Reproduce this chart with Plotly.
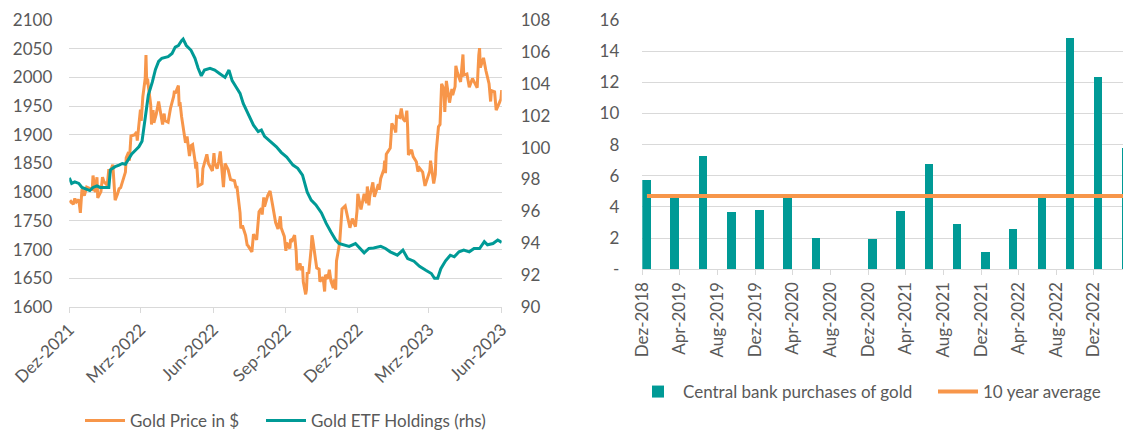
import plotly.graph_objects as go

# ---------------- Left chart data ----------------
gold_dates = [
    "2021-12-01","2021-12-03","2021-12-06","2021-12-08","2021-12-10","2021-12-13","2021-12-15","2021-12-16",
    "2021-12-17","2021-12-20","2021-12-22","2021-12-23","2021-12-28","2021-12-30","2021-12-31",
    "2022-01-03","2022-01-05","2022-01-06","2022-01-10","2022-01-12","2022-01-14","2022-01-18","2022-01-20",
    "2022-01-21","2022-01-25","2022-01-26","2022-01-28","2022-01-31",
    "2022-02-02","2022-02-04","2022-02-08","2022-02-10","2022-02-11","2022-02-14","2022-02-15","2022-02-17",
    "2022-02-22","2022-02-24","2022-02-25",
    "2022-03-01","2022-03-02","2022-03-04","2022-03-07","2022-03-08","2022-03-09","2022-03-10","2022-03-11",
    "2022-03-14","2022-03-15","2022-03-17","2022-03-18","2022-03-21","2022-03-24","2022-03-28","2022-03-29",
    "2022-03-31",
    "2022-04-01","2022-04-05","2022-04-08","2022-04-12","2022-04-13","2022-04-14","2022-04-18","2022-04-19",
    "2022-04-20","2022-04-22","2022-04-25","2022-04-27","2022-04-29",
    "2022-05-02","2022-05-04","2022-05-06","2022-05-09","2022-05-10","2022-05-11","2022-05-13","2022-05-16",
    "2022-05-18","2022-05-19","2022-05-24","2022-05-26","2022-05-31",
    "2022-06-02","2022-06-03","2022-06-06","2022-06-08","2022-06-10","2022-06-13","2022-06-14","2022-06-16",
    "2022-06-20","2022-06-23","2022-06-28","2022-06-30",
    "2022-07-01","2022-07-05","2022-07-06","2022-07-08","2022-07-12","2022-07-14","2022-07-15","2022-07-20",
    "2022-07-21","2022-07-22","2022-07-26","2022-07-28","2022-07-29",
    "2022-08-01","2022-08-02","2022-08-04","2022-08-05","2022-08-09","2022-08-12","2022-08-15","2022-08-17",
    "2022-08-19","2022-08-22","2022-08-25","2022-08-26","2022-08-30",
    "2022-09-01","2022-09-02","2022-09-06","2022-09-07","2022-09-09","2022-09-12","2022-09-14","2022-09-15",
    "2022-09-19","2022-09-20","2022-09-22","2022-09-23","2022-09-26","2022-09-27","2022-09-28","2022-09-30",
    "2022-10-03","2022-10-04","2022-10-05","2022-10-07","2022-10-10","2022-10-13","2022-10-14","2022-10-18",
    "2022-10-20","2022-10-21","2022-10-24","2022-10-26","2022-10-28","2022-10-31",
    "2022-11-01","2022-11-03","2022-11-04","2022-11-08","2022-11-10","2022-11-11","2022-11-15","2022-11-17",
    "2022-11-21","2022-11-24","2022-11-28","2022-11-30",
    "2022-12-01","2022-12-05","2022-12-08","2022-12-09","2022-12-12","2022-12-13","2022-12-15","2022-12-16",
    "2022-12-20","2022-12-22","2022-12-27","2022-12-28","2022-12-30",
    "2023-01-03","2023-01-04","2023-01-05","2023-01-06","2023-01-09","2023-01-11","2023-01-12","2023-01-13",
    "2023-01-17","2023-01-18","2023-01-19","2023-01-23","2023-01-25","2023-01-27","2023-01-30",
    "2023-02-01","2023-02-02","2023-02-03","2023-02-07","2023-02-09","2023-02-13","2023-02-15","2023-02-17",
    "2023-02-21","2023-02-24","2023-02-28",
    "2023-03-02","2023-03-03","2023-03-07","2023-03-09","2023-03-10","2023-03-13","2023-03-15","2023-03-17",
    "2023-03-20","2023-03-21","2023-03-23","2023-03-27","2023-03-30","2023-03-31",
    "2023-04-03","2023-04-04","2023-04-06","2023-04-10","2023-04-13","2023-04-14","2023-04-18","2023-04-21",
    "2023-04-25","2023-04-28",
    "2023-05-01","2023-05-03","2023-05-04","2023-05-05","2023-05-09","2023-05-12","2023-05-16","2023-05-18",
    "2023-05-19","2023-05-23","2023-05-25","2023-05-26","2023-05-30","2023-05-31","2023-06-01",
]
gold_price = [
    1782,1784,1779,1789,1783,1787,1764,1798,
    1805,1794,1803,1809,1806,1805,1829,
    1800,1826,1790,1801,1826,1818,1812,1840,
    1833,1848,1820,1786,1797,
    1806,1808,1825,1835,1860,1870,1855,1898,
    1900,1905,1890,
    1944,1924,1966,1998,2039,1988,1998,1985,
    1952,1918,1943,1921,1936,1958,1923,1918,
    1937,
    1925,1922,1946,1967,1977,1972,1986,1950,
    1957,1932,1898,1886,1897,
    1863,1881,1883,1855,1841,1853,1811,1813,
    1815,1841,1866,1850,1837,
    1868,1851,1841,1853,1871,1831,1809,1850,
    1839,1822,1820,1807,
    1811,1764,1737,1742,1725,1708,1707,1696,
    1718,1727,1717,1755,1766,
    1772,1761,1791,1775,1794,1802,1779,1761,
    1747,1736,1758,1738,1723,
    1698,1712,1702,1718,1716,1725,1697,1664,
    1676,1664,1671,1644,1622,1630,1659,1660,
    1702,1725,1717,1695,1668,1666,1644,1652,
    1627,1656,1649,1665,1645,1633,
    1648,1630,1680,1712,1755,1771,1776,1761,
    1738,1754,1740,1768,
    1797,1770,1789,1797,1781,1810,1777,1792,
    1817,1792,1814,1804,1824,
    1840,1855,1833,1866,1872,1877,1897,1920,
    1909,1904,1932,1930,1946,1928,1923,
    1942,1913,1865,1874,1862,1853,1836,1842,
    1835,1811,1827,
    1837,1855,1815,1831,1868,1914,1918,1989,
    1979,1940,1994,1956,1980,1969,
    1984,2020,2008,1992,2040,2004,2006,1983,
    1998,1990,
    1982,2039,2051,2017,2034,2012,1989,1958,
    1977,1975,1943,1946,1959,1962,1978,
]

etf_dates = [
    "2021-12-01","2021-12-04","2021-12-08","2021-12-13","2021-12-17","2021-12-23","2021-12-27","2021-12-31",
    "2022-01-05","2022-01-09","2022-01-15","2022-01-20","2022-01-22","2022-01-28",
    "2022-02-02","2022-02-06","2022-02-10","2022-02-14","2022-02-18","2022-02-23","2022-02-27",
    "2022-03-03","2022-03-07","2022-03-11","2022-03-16","2022-03-20","2022-03-24","2022-03-28",
    "2022-04-05","2022-04-10","2022-04-14","2022-04-18","2022-04-22","2022-04-24","2022-04-28",
    "2022-05-04","2022-05-09","2022-05-13","2022-05-17","2022-05-21","2022-05-28",
    "2022-06-03","2022-06-09","2022-06-16","2022-06-21","2022-06-25","2022-06-30",
    "2022-07-05","2022-07-09","2022-07-15","2022-07-22","2022-07-28",
    "2022-08-01","2022-08-05","2022-08-12","2022-08-20","2022-08-26",
    "2022-09-02","2022-09-10","2022-09-16","2022-09-22","2022-09-28",
    "2022-10-03","2022-10-09","2022-10-16","2022-10-22","2022-10-28",
    "2022-11-03","2022-11-07","2022-11-13","2022-11-20","2022-11-28",
    "2022-12-04","2022-12-09","2022-12-15","2022-12-21","2022-12-30",
    "2023-01-05","2023-01-11","2023-01-20","2023-01-27",
    "2023-02-02","2023-02-10","2023-02-17","2023-02-25",
    "2023-03-04","2023-03-08","2023-03-12","2023-03-16","2023-03-22","2023-03-28",
    "2023-04-02","2023-04-08","2023-04-14","2023-04-21","2023-04-27",
    "2023-05-04","2023-05-10","2023-05-14","2023-05-21","2023-05-27","2023-06-01",
]
etf_holdings = [
    98.1,97.75,97.85,97.75,97.5,97.4,97.3,97.5,
    97.6,97.5,97.5,97.5,98.6,98.8,
    98.9,99.0,98.95,99.3,99.6,99.85,100.05,
    100.4,102.0,103.3,104.1,104.9,105.4,105.6,
    105.7,105.9,106.3,106.4,106.7,106.8,106.4,
    106.1,105.6,104.97,104.5,104.86,104.97,
    104.86,104.65,104.4,104.86,104.2,103.8,
    103.4,102.77,102.1,101.4,101.0,
    101.1,100.7,100.4,100.05,99.7,
    99.4,98.9,98.7,98.27,97.2,
    96.7,96.4,95.9,95.24,94.7,
    94.2,93.98,93.9,93.8,93.98,
    93.67,93.4,93.67,93.7,93.8,
    93.67,93.46,93.25,93.57,
    93.04,92.87,92.55,92.3,
    92.1,91.8,91.8,92.4,92.9,93.25,
    93.15,93.46,93.57,93.46,93.67,
    93.67,94.1,93.9,93.98,94.2,94.05,
]

left_tick_dates = ["2021-12-01","2022-03-01","2022-06-01","2022-09-01","2022-12-01","2023-03-01","2023-06-01"]
left_tick_labels = ["Dez-2021","Mrz-2022","Jun-2022","Sep-2022","Dez-2022","Mrz-2023","Jun-2023"]

# ---------------- Right chart data ----------------
cb_months = ["2018-12","2019-03","2019-06","2019-09","2019-12","2020-03","2020-06","2020-09","2020-12",
             "2021-03","2021-06","2021-09","2021-12","2022-03","2022-06","2022-09","2022-12","2023-03"]
cb_purchases = [5.75,4.55,7.3,3.65,3.78,4.55,2.03,0,1.96,
                3.72,6.73,2.9,1.11,2.58,4.85,14.85,12.33,7.8]
ten_year_avg = 4.7

right_tick_dates = ["2018-12-01","2019-04-01","2019-08-01","2019-12-01","2020-04-01","2020-08-01","2020-12-01",
                    "2021-04-01","2021-08-01","2021-12-01","2022-04-01","2022-08-01","2022-12-01"]
right_tick_labels = ["Dez-2018","Apr-2019","Aug-2019","Dez-2019","Apr-2020","Aug-2020","Dez-2020",
                     "Apr-2021","Aug-2021","Dez-2021","Apr-2022","Aug-2022","Dez-2022"]

# ---------------- Styling ----------------
ORANGE = "#F7964A"
TEAL = "#009A96"
GRID = "#D9D9D9"
TXT = "#595959"
FONT = "Lato"
FS = 17
W, H = 1123, 432

bar_x = [m + "-16" for m in cb_months]
DAY_MS = 86400000

fig = go.Figure()
fig.add_trace(go.Scatter(x=gold_dates, y=gold_price, name="Gold Price in $", mode="lines",
                         line=dict(color=ORANGE, width=3), xaxis="x", yaxis="y", legend="legend"))
fig.add_trace(go.Scatter(x=etf_dates, y=etf_holdings, name="Gold ETF Holdings (rhs)", mode="lines",
                         line=dict(color=TEAL, width=3), xaxis="x", yaxis="y2", legend="legend3"))
fig.add_trace(go.Bar(x=bar_x, y=cb_purchases, name="Central bank purchases of gold",
                     width=[27 * DAY_MS] * len(bar_x), marker=dict(color=TEAL, line=dict(width=0)),
                     xaxis="x2", yaxis="y3", legend="legend2"))
fig.add_trace(go.Scatter(x=bar_x, y=[ten_year_avg] * len(bar_x), name="10 year average", mode="lines",
                         line=dict(color=ORANGE, width=4), xaxis="x2", yaxis="y3", legend="legend4"))

tickfont = dict(family=FONT, size=FS, color=TXT)


def leg(x_px, y_px):
    return dict(orientation="h", x=x_px / W, xanchor="left", y=(H - y_px) / H, yanchor="middle",
                font=dict(family=FONT, size=FS, color=TXT), bgcolor="rgba(0,0,0,0)",
                itemwidth=40, traceorder="normal")


fig.update_layout(
    width=W, height=H, autosize=False,
    margin=dict(l=0, r=0, t=0, b=0, pad=0, autoexpand=False),
    paper_bgcolor="white", plot_bgcolor="white",
    font=dict(family=FONT, size=FS, color=TXT),
    showlegend=True,
    xaxis=dict(domain=[69.3 / W, 501.7 / W], anchor="y", type="date", automargin=False,
               range=["2021-12-01", "2023-06-01"],
               tickvals=left_tick_dates, ticktext=left_tick_labels, tickangle=-45,
               showgrid=False, showline=True, linecolor=GRID, linewidth=1,
               ticks="outside", ticklen=5, tickcolor=GRID, tickfont=tickfont, zeroline=False),
    yaxis=dict(domain=[(H - 307) / H, (H - 20) / H], anchor="x", range=[1600, 2100], dtick=50,
               automargin=False,
               showgrid=True, gridcolor=GRID, gridwidth=1, showline=False, zeroline=False,
               ticks="", tickfont=tickfont, ticklabelstandoff=16),
    yaxis2=dict(overlaying="y", side="right", anchor="x", range=[90, 108], dtick=2, automargin=False,
                showgrid=False, showline=False, zeroline=False, ticks="", tickfont=tickfont,
                ticklabelstandoff=18),
    xaxis2=dict(domain=[642.3 / W, 1.0], anchor="y3", type="date", automargin=False,
                range=["2018-12-01", "2023-03-05"],
                tickvals=right_tick_dates, ticktext=right_tick_labels, tickangle=-90,
                showgrid=False, showline=True, linecolor=GRID, linewidth=1,
                ticks="outside", ticklen=5, tickcolor=GRID, tickfont=tickfont, zeroline=False),
    yaxis3=dict(domain=[(H - 269.3) / H, (H - 20) / H], anchor="x2", range=[0, 16], automargin=False,
                tickvals=[0, 2, 4, 6, 8, 10, 12, 14, 16],
                ticktext=["-", "2", "4", "6", "8", "10", "12", "14", "16"],
                showgrid=True, gridcolor=GRID, gridwidth=1, showline=False, zeroline=False,
                ticks="", tickfont=tickfont, ticklabelstandoff=22),
    legend=leg(80, 421),
    legend3=leg(261, 421),
    legend2=leg(633, 392),
    legend4=leg(933, 392),
    bargap=0,
)

fig.write_html("out.html", config={"displayModeBar": False},
               post_script="document.body.style.margin='0';document.body.style.padding='0';")
